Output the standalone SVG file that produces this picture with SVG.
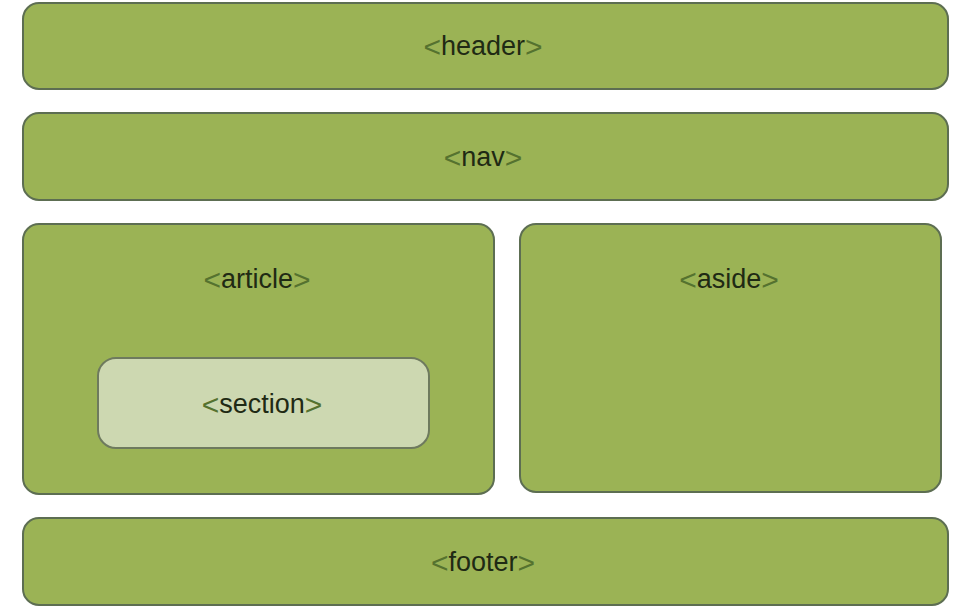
<svg xmlns="http://www.w3.org/2000/svg" width="954" height="609" viewBox="0 0 954 609">
<style>
.box{fill:#9bb355;stroke:#5d6e52;stroke-width:2}
.sec{fill:#cdd8b1;stroke:#6e7a5e;stroke-width:2}
.t{font-family:"Liberation Sans",Arial,sans-serif;font-size:27px;fill:#1f2a14;text-anchor:middle;dominant-baseline:central}
.b{fill:#55722f;font-size:30px}
</style>
<rect width="954" height="609" fill="#ffffff"/>
<g id="header"><rect class="box" x="23" y="3" width="925" height="86" rx="16"/><text class="t" x="483" y="46"><tspan class="b">&lt;</tspan>header<tspan class="b">&gt;</tspan></text></g>
<g id="nav"><rect class="box" x="23" y="113" width="925" height="87" rx="16"/><text class="t" x="483" y="157"><tspan class="b">&lt;</tspan>nav<tspan class="b">&gt;</tspan></text></g>
<g id="article"><rect class="box" x="23" y="224" width="471" height="270" rx="16"/><text class="t" x="257" y="279"><tspan class="b">&lt;</tspan>article<tspan class="b">&gt;</tspan></text></g>
<g id="section"><rect class="sec" x="98" y="358" width="331" height="90" rx="18"/><text class="t" x="262" y="404"><tspan class="b">&lt;</tspan>section<tspan class="b">&gt;</tspan></text></g>
<g id="aside"><rect class="box" x="520" y="224" width="421" height="268" rx="16"/><text class="t" x="729" y="279"><tspan class="b">&lt;</tspan>aside<tspan class="b">&gt;</tspan></text></g>
<g id="footer"><rect class="box" x="23" y="518" width="925" height="87" rx="16"/><text class="t" x="483" y="562"><tspan class="b">&lt;</tspan>footer<tspan class="b">&gt;</tspan></text></g>
<g id="connectors"/>
</svg>
